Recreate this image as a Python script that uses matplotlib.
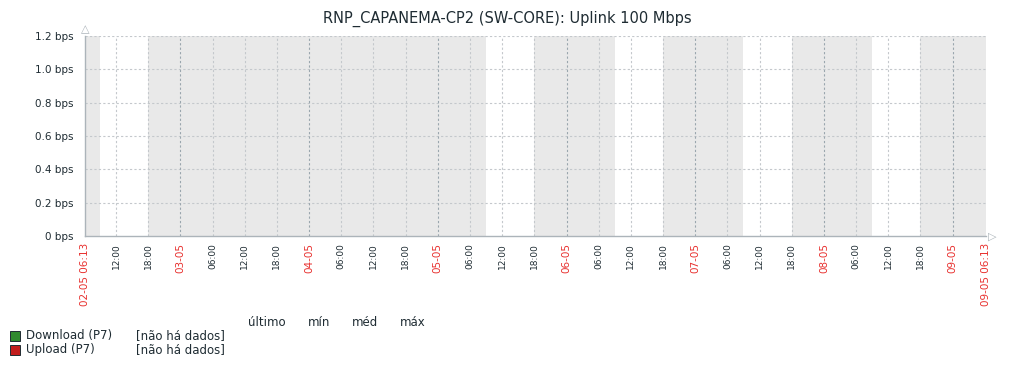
import matplotlib
matplotlib.use("Agg")
import matplotlib.pyplot as plt
import matplotlib.dates as mdates
import numpy as np
import pandas as pd

title = "RNP_CAPANEMA-CP2 (SW-CORE): Uplink 100 Mbps"
t_start = pd.Timestamp("2025-05-02 06:13")
t_end = pd.Timestamp("2025-05-09 06:13")
y_ticks = [0.0, 0.2, 0.4, 0.6, 0.8, 1.0, 1.2]
y_labels = ["0 bps", "0.2 bps", "0.4 bps", "0.6 bps", "0.8 bps", "1.0 bps", "1.2 bps"]
work_periods = [
    ("2025-05-02 09:00", "2025-05-02 18:00"),
    ("2025-05-05 09:00", "2025-05-05 18:00"),
    ("2025-05-06 09:00", "2025-05-06 18:00"),
    ("2025-05-07 09:00", "2025-05-07 18:00"),
    ("2025-05-08 09:00", "2025-05-08 18:00"),
]
series_names = ["Download (P7)", "Upload (P7)"]
series_colors = ["#2f8a2f", "#c21d1d"]
series_status = ["[não há dados]", "[não há dados]"]
legend_headers = ["último", "mín", "méd", "máx"]

W, H = 1016, 368
fig = plt.figure(figsize=(W / 100, H / 100), dpi=100)
ax = fig.add_axes([85 / W, 1 - 236 / H, 901 / W, 200 / H])

x0 = mdates.date2num(t_start)
x1 = mdates.date2num(t_end)
ax.set_xlim(x0, x1)
ax.set_ylim(0, 1.2)

# shading: non-working time
ax.axvspan(x0, x1, color="#e9e9e9", lw=0, zorder=0)
for a, b in work_periods:
    ax.axvspan(mdates.date2num(pd.Timestamp(a)), mdates.date2num(pd.Timestamp(b)),
               color="white", lw=0, zorder=0.5)

# horizontal grid
for y in y_ticks[1:]:
    ax.axhline(y, color="#c4c8cc", lw=0.8, ls=(0, (2, 2)), zorder=1)

# vertical grid + tick labels
ticks = pd.date_range("2025-05-02 12:00", "2025-05-09 00:00", freq="6h")
for t in ticks:
    xv = mdates.date2num(t)
    midnight = t.hour == 0
    ax.axvline(xv, color="#9aa6ae" if midnight else "#c4c8cc", lw=0.8,
               ls=(0, (2, 2)), zorder=1)
    if midnight:
        ax.text(xv, -0.035, t.strftime("%d-%m"), rotation=90, ha="center", va="top",
                fontsize=7.5, color="#e8312f", transform=ax.get_xaxis_transform())
    else:
        ax.text(xv, -0.035, t.strftime("%H:%M"), rotation=90, ha="center", va="top",
                fontsize=6.5, color="#1f2c33", transform=ax.get_xaxis_transform())
for t in (t_start, t_end):
    ax.text(mdates.date2num(t), -0.035, t.strftime("%d-%m %H:%M"), rotation=90,
            ha="center", va="top", fontsize=7.5, color="#e8312f",
            transform=ax.get_xaxis_transform())

ax.set_xticks([])
ax.set_yticks(y_ticks)
ax.set_yticklabels(y_labels, fontsize=7.5, color="#1f2c33")
ax.tick_params(axis="y", length=0, pad=8)
for s in ("top", "right"):
    ax.spines[s].set_visible(False)
for s in ("left", "bottom"):
    ax.spines[s].set_color("#acb4ba")
    ax.spines[s].set_linewidth(1.0)
    ax.spines[s].set_zorder(3)

# arrows at axis ends
fig.text(85.5 / W, 1 - 29 / H, "△", fontsize=8, color="#acb4ba", ha="center", va="center")
fig.text(992 / W, 1 - 237 / H, "▷", fontsize=8, color="#acb4ba", ha="center", va="center")

fig.text(507 / W, 1 - 19 / H, title, fontsize=10.5, color="#1f2c33", ha="center", va="center")

# legend
hx = [248, 308, 352, 400]
for x, h in zip(hx, legend_headers):
    fig.text(x / W, 1 - 322 / H, h, fontsize=8.5, color="#1f2c33", ha="left", va="center")
for i, (name, col, st) in enumerate(zip(series_names, series_colors, series_status)):
    yy = 1 - (336 + 14 * i) / H
    fig.patches.append(plt.Rectangle((10 / W, yy - 5 / H), 10 / W, 10 / H,
                                     transform=fig.transFigure, facecolor=col,
                                     edgecolor="#1f2c33", lw=0.7))
    fig.text(26 / W, yy, name, fontsize=8.5, color="#1f2c33", ha="left", va="center")
    fig.text(136 / W, yy, st, fontsize=8.5, color="#1f2c33", ha="left", va="center")

fig.savefig("out.png", dpi=100)
